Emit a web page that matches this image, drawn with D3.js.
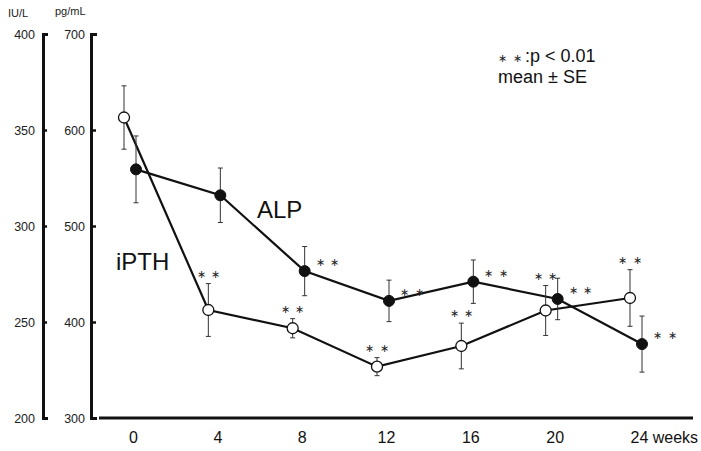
<!DOCTYPE html>
<html>
<head>
<meta charset="utf-8">
<script src="https://cdn.jsdelivr.net/npm/d3@7"></script>
<style>
  body { margin: 0; background: #fff; }
  svg { display: block; font-family: "Liberation Sans", Arial, sans-serif; }
</style>
</head>
<body>
<div id="chart"></div>
<script>
'use strict';

// weeks of treatment
const weeks = [0, 4, 8, 12, 16, 20, 24];

// ALP, IU/L (filled circles)
const alpMean = [329.5, 316, 276.5, 261, 271, 262, 238.5];
const alpSE = [17.4, 14.2, 12.8, 10.8, 11.3, 10.8, 14.6];
const alpSig = [false, false, true, true, true, true, true];

// iPTH, pg/mL (open circles)
const pthMean = [613, 412.5, 393.5, 353.5, 375, 412, 425];
const pthSE = [33, 27.5, 10, 9.4, 23.8, 26, 29.5];
const pthSig = [false, true, true, true, true, true, true];

const alpTicks = [200, 250, 300, 350, 400];
const pthTicks = [300, 400, 500, 600, 700];

const width = 701, height = 451;

const svg = d3.select('#chart').append('svg')
    .attr('width', width)
    .attr('height', height);

const x = d3.scaleLinear().domain([0, 24]).range([133, 639]);
const yAlp = d3.scaleLinear().domain([200, 400]).range([418, 34]);
const yPth = d3.scaleLinear().domain([300, 700]).range([418, 34]);

const alpX = w => x(w) + 3;
const pthX = w => x(w) - 9;

// left axis, IU/L
const axAlp = svg.append('g')
    .attr('transform', 'translate(43,0)')
    .call(d3.axisLeft(yAlp).tickValues(alpTicks).tickSizeInner(-4).tickSizeOuter(-5).tickPadding(8));

// second axis, pg/mL
const axPth = svg.append('g')
    .attr('transform', 'translate(91,0)')
    .call(d3.axisLeft(yPth).tickValues(pthTicks).tickSizeInner(-5).tickSizeOuter(-6).tickPadding(6));

[axAlp, axPth].forEach(ax => {
    ax.select('.domain').attr('stroke', '#111').attr('stroke-width', 3);
    ax.selectAll('.tick line').attr('stroke', '#111').attr('stroke-width', 2.5);
    ax.selectAll('.tick text')
        .attr('font-size', 12.5)
        .attr('font-family', '"Liberation Sans", Arial, sans-serif')
        .attr('fill', '#222');
});

svg.append('text').attr('x', 8).attr('y', 17)
    .attr('font-size', 11).attr('fill', '#222').text('IU/L');
svg.append('text').attr('x', 55).attr('y', 15)
    .attr('font-size', 11).attr('fill', '#222').text('pg/mL');

// x axis
svg.append('line')
    .attr('x1', 99).attr('x2', 693)
    .attr('y1', 418).attr('y2', 418)
    .attr('stroke', '#111').attr('stroke-width', 3);

const axX = svg.append('g')
    .attr('transform', 'translate(0,418)')
    .call(d3.axisBottom(x).tickValues(weeks).tickSize(0).tickPadding(14)
        .tickFormat(d => d === 24 ? '24 weeks' : d));
axX.select('.domain').remove();
axX.selectAll('.tick text')
    .attr('font-size', 16)
    .attr('font-family', '"Liberation Sans", Arial, sans-serif')
    .attr('fill', '#111');
axX.selectAll('.tick text').filter(d => d === 24)
    .attr('text-anchor', 'start')
    .attr('dx', -9);

const alpData = weeks.map((w, i) => ({w, m: alpMean[i], se: alpSE[i], sig: alpSig[i]}));
const pthData = weeks.map((w, i) => ({w, m: pthMean[i], se: pthSE[i], sig: pthSig[i]}));

// lines
svg.append('path').datum(pthData)
    .attr('fill', 'none').attr('stroke', '#111').attr('stroke-width', 2.2)
    .attr('d', d3.line().x(d => pthX(d.w)).y(d => yPth(d.m)));
svg.append('path').datum(alpData)
    .attr('fill', 'none').attr('stroke', '#111').attr('stroke-width', 2.2)
    .attr('d', d3.line().x(d => alpX(d.w)).y(d => yAlp(d.m)));

// error bars
function errorBars(data, xf, y, cls) {
    const g = svg.append('g').attr('class', cls)
        .attr('stroke', '#333').attr('stroke-width', 1);
    const bars = g.selectAll('g').data(data).join('g');
    bars.append('line')
        .attr('x1', d => xf(d.w)).attr('x2', d => xf(d.w))
        .attr('y1', d => y(d.m + d.se)).attr('y2', d => y(d.m - d.se));
    bars.append('line')
        .attr('x1', d => xf(d.w) - 2.5).attr('x2', d => xf(d.w) + 2.5)
        .attr('y1', d => y(d.m + d.se)).attr('y2', d => y(d.m + d.se));
    bars.append('line')
        .attr('x1', d => xf(d.w) - 2.5).attr('x2', d => xf(d.w) + 2.5)
        .attr('y1', d => y(d.m - d.se)).attr('y2', d => y(d.m - d.se));
}
errorBars(pthData, pthX, yPth, 'err-pth');
errorBars(alpData, alpX, yAlp, 'err-alp');

// points
svg.append('g').selectAll('circle').data(pthData).join('circle')
    .attr('cx', d => pthX(d.w)).attr('cy', d => yPth(d.m)).attr('r', 5.5)
    .attr('fill', '#fff').attr('stroke', '#111').attr('stroke-width', 1.3);
svg.append('g').selectAll('circle').data(alpData).join('circle')
    .attr('cx', d => alpX(d.w)).attr('cy', d => yAlp(d.m)).attr('r', 5.5)
    .attr('fill', '#111').attr('stroke', '#111').attr('stroke-width', 1);

// significance marks
const star = '\u2217\u2002\u2217';
svg.append('g').selectAll('text').data(pthData.filter(d => d.sig)).join('text')
    .attr('x', d => pthX(d.w)).attr('y', d => yPth(d.m + d.se) - 6)
    .attr('text-anchor', 'middle').attr('font-size', 11).attr('fill', '#222')
    .text(star);
svg.append('g').selectAll('text').data(alpData.filter(d => d.sig)).join('text')
    .attr('x', d => alpX(d.w) + 11).attr('y', d => yAlp(d.m) - 5)
    .attr('text-anchor', 'start').attr('font-size', 11).attr('fill', '#222')
    .text(star);

// series labels
svg.append('text').attr('x', 257).attr('y', 218)
    .attr('font-size', 24).attr('fill', '#111').text('ALP');
svg.append('text').attr('x', 116).attr('y', 270)
    .attr('font-size', 24).attr('fill', '#111').text('iPTH');

// key
svg.append('text').attr('x', 498).attr('y', 62)
    .attr('font-size', 11).attr('fill', '#222').text(star);
svg.append('text').attr('x', 525).attr('y', 62)
    .attr('font-size', 18).attr('fill', '#111').text(':p < 0.01');
svg.append('text').attr('x', 498).attr('y', 83)
    .attr('font-size', 18).attr('fill', '#111').text('mean \u00b1 SE');
</script>
</body>
</html>
